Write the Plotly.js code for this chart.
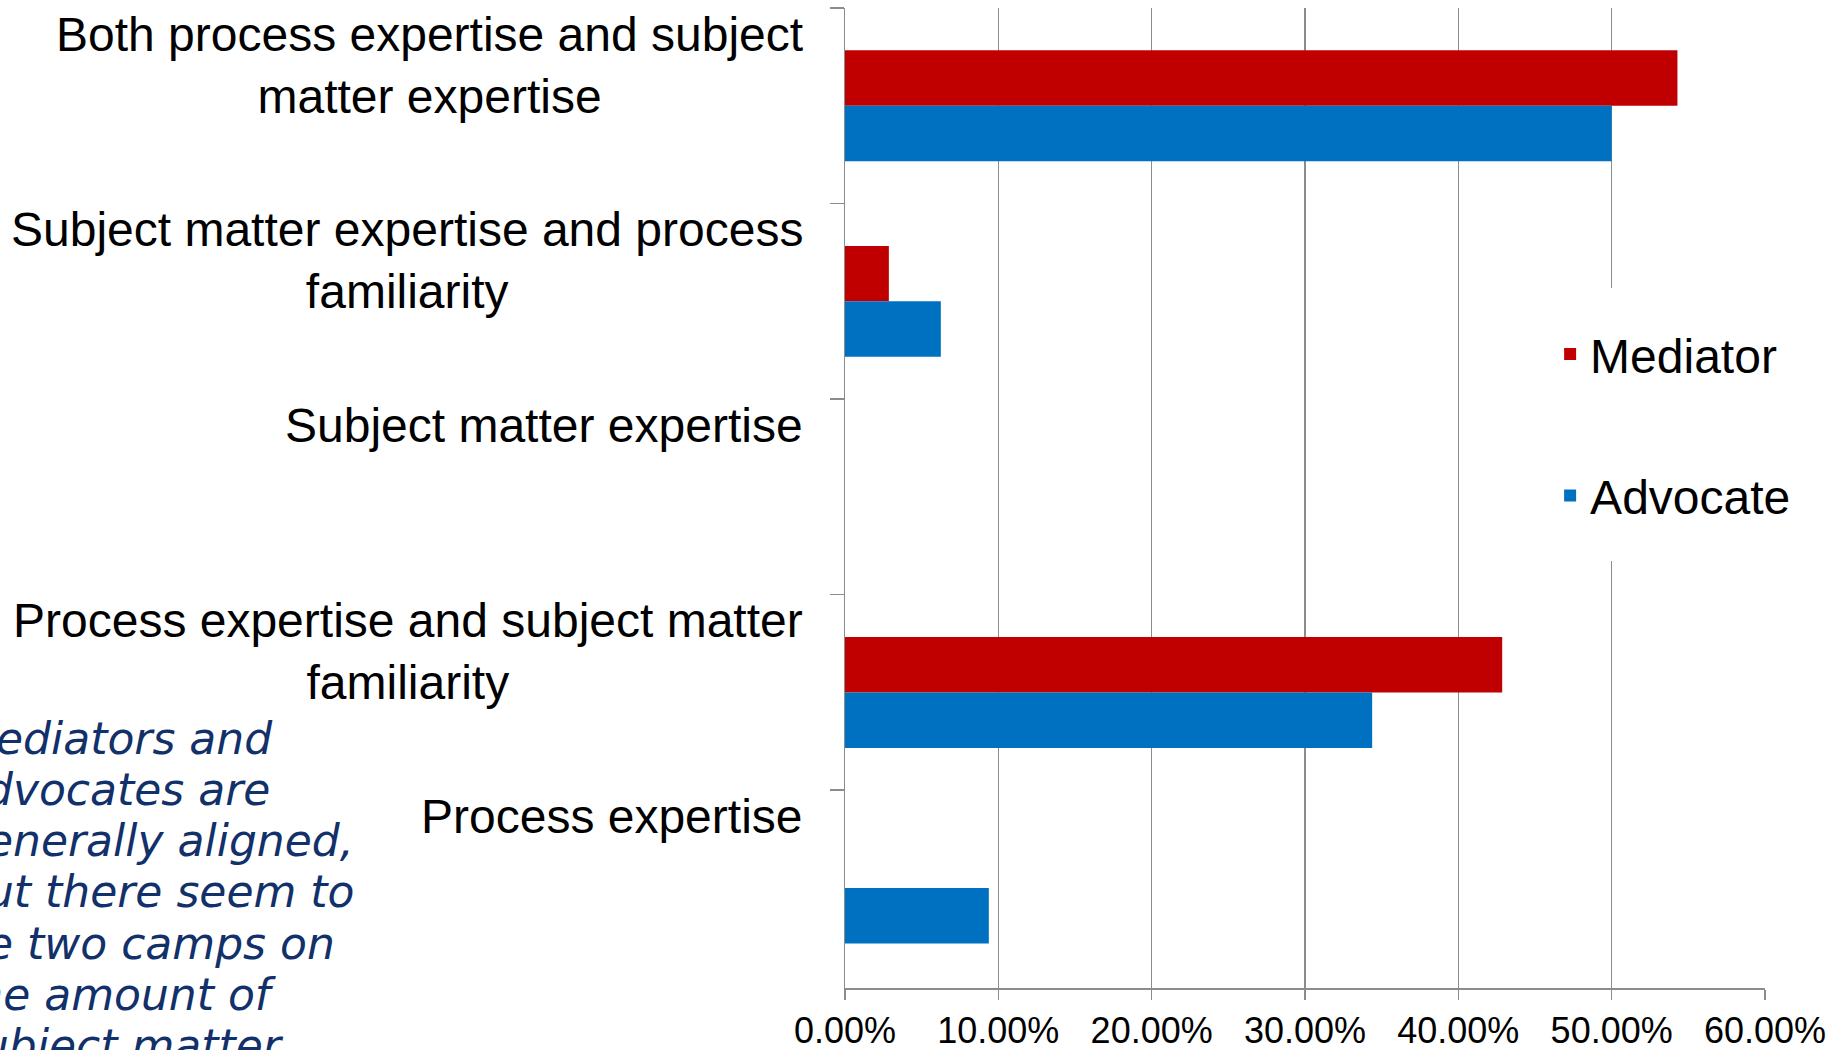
<!DOCTYPE html>
<html>
<head>
<meta charset="utf-8">
<script src="https://cdn.plot.ly/plotly-3.0.1.min.js"></script>
<style>
html,body{margin:0;padding:0;background:#ffffff;overflow:hidden}
#chart{width:1833px;height:1050px}
</style>
</head>
<body>
<div id="chart"></div>
<script>
// ---- data (display order, top to bottom) ----
const categories = [
  "Both process expertise and subject matter expertise",
  "Subject matter expertise and process familiarity",
  "Subject matter expertise",
  "Process expertise and subject matter familiarity",
  "Process expertise"
];
const categoryLabels = [
  "Both process expertise and subject<br>matter expertise",
  "Subject matter expertise and process<br>familiarity",
  "Subject matter expertise",
  "Process expertise and subject matter<br>familiarity",
  "Process expertise"
];
const seriesNames = ["Mediator", "Advocate"];
const mediatorValues = [0.5429, 0.0286, 0, 0.4286, 0];
const advocateValues = [0.5000, 0.0625, 0, 0.3438, 0.0938];
const xTickValues = [0, 0.1, 0.2, 0.3, 0.4, 0.5, 0.6];
const noteLines = [
  "Mediators and",
  "advocates are",
  "generally aligned,",
  "but there seem to",
  "be two camps on",
  "the amount of",
  "subject matter"
];

// ---- styles ----
const FONT = "Liberation Sans, Arial, Helvetica, sans-serif";
const NOTE_FONT = "'Segoe Script', 'Comic Sans MS', 'DejaVu Sans', sans-serif";
const GRID = "#8c8c8c";
const colors = ["#C00000", "#0070C0"];

const traces = [
  {
    type: "bar", orientation: "h", name: seriesNames[0],
    y: categories, x: mediatorValues,
    marker: { color: colors[0] }, legendgroup: "m",
    hoverinfo: "x+y"
  },
  {
    type: "bar", orientation: "h", name: seriesNames[1],
    y: categories, x: advocateValues,
    marker: { color: colors[1] }, legendgroup: "a",
    hoverinfo: "x+y"
  }
];

const annotations = categories.map((c, i) => ({
  xref: "paper", yref: "y", x: 0, y: c,
  xanchor: "right", yanchor: "top", xshift: -40, yshift: 100,
  align: "center", showarrow: false,
  text: categoryLabels[i],
  font: { family: FONT, size: 48, color: "#000000" }
}));

// handwritten-style note, partly outside the picture on the left and bottom (as in the original)
const noteTop = 0.2543;     // paper y of the first line centre
const noteStep = 0.0521;    // paper distance between lines
noteLines.forEach((line, i) => {
  annotations.push({
    xref: "paper", yref: "paper", x: -0.966, y: noteTop - i * noteStep,
    xanchor: "left", yanchor: "middle", align: "left", showarrow: false,
    text: line,
    font: { family: NOTE_FONT, size: 44, color: "#12306a", style: "italic" }
  });
});

const layout = {
  width: 1833, height: 1050,
  margin: { l: 845, r: 68, t: 8, b: 62, pad: 0 },
  paper_bgcolor: "#ffffff", plot_bgcolor: "#ffffff",
  barmode: "group", bargap: 0.433, bargroupgap: 0,
  font: { family: FONT, color: "#000000" },
  showlegend: true,
  legend: {
    x: 0.736, y: 0.714, xanchor: "left", yanchor: "top",
    bgcolor: "#ffffff", bordercolor: "#ffffff", borderwidth: 28,
    font: { family: FONT, size: 48, color: "#000000" },
    traceorder: "grouped", tracegroupgap: 76
  },
  xaxis: {
    range: [0, 0.6], tickvals: xTickValues, tickformat: ".2%",
    showgrid: true, gridcolor: GRID, gridwidth: 1.5,
    showline: true, linecolor: GRID, linewidth: 1.5,
    ticks: "outside", ticklen: 10, tickwidth: 1.5, tickcolor: GRID,
    ticklabelstandoff: 0,
    tickfont: { family: FONT, size: 36, color: "#000000" },
    zeroline: false, fixedrange: true
  },
  yaxis: {
    type: "category", autorange: "reversed",
    showticklabels: false, showgrid: false,
    showline: true, linecolor: GRID, linewidth: 1.5,
    ticks: "outside", tickson: "boundaries", ticklen: 14, tickwidth: 1.5, tickcolor: GRID,
    zeroline: false, fixedrange: true
  },
  annotations: annotations
};

Plotly.newPlot("chart", traces, layout, { displayModeBar: false, staticPlot: true });
</script>
</body>
</html>
